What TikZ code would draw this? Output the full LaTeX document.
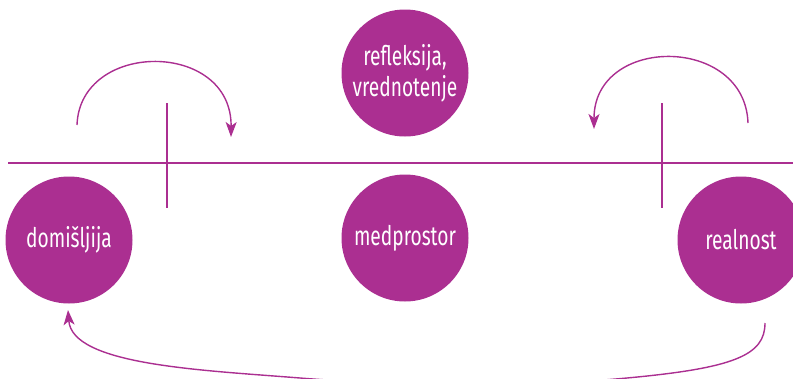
\documentclass[tikz,border=0pt]{standalone}
\usepackage{fontspec}
\setmainfont[FakeStretch=0.71]{Fira Sans}
\usetikzlibrary{arrows.meta}
\definecolor{plum}{RGB}{171,47,145}
\tikzset{
  blob/.style={circle, fill=plum, minimum size=127pt, inner sep=0pt,
    text=white, font=\fontsize{27}{31}\selectfont, align=center},
  rule/.style={draw=plum, line width=1.3pt},
  flow/.style={draw=plum, line width=1.4pt,
    -{Stealth[length=15pt, width=11pt, inset=4pt]}}
}
\begin{document}
\begin{tikzpicture}[x=1pt, y=-1pt]
  \useasboundingbox (0,0) rectangle (793,378);
  \clip (0,0) rectangle (793,378);

  % axis and the two dividers
  \coordinate (axL) at (8,163);
  \coordinate (axR) at (793,163);
  \coordinate (d1t) at (167,103);
  \coordinate (d1b) at (167,208);
  \coordinate (d2t) at (662,103);
  \coordinate (d2b) at (662,208);
  \draw[rule] (axL) -- (axR);
  \draw[rule] (d1t) -- (d1b);
  \draw[rule] (d2t) -- (d2b);

  % circles
  \node[blob] (dom) at (69,240) {domišljija};
  \node[blob] (med) at (405,238) {medprostor};
  \node[blob] (real) at (741,240) {realnost};
  \node[blob] (ref) at (405,73) {refleksija,\\vrednotenje};

  % curved arrows
  \coordinate (a1s) at (77,125);
  \coordinate (a1e) at (231,137);
  \coordinate (a2s) at (748,123);
  \coordinate (a2e) at (594,129);
  \coordinate (a3s) at (765,323);
  \coordinate (a3r) at (627,378);
  \coordinate (a3l) at (300,378);
  \coordinate (a3e) at (68,310);
  \draw[flow] (a1s) .. controls (80,40) and (232,40) .. (a1e);
  \draw[flow] (a2s) .. controls (745,35) and (594,35) .. (a2e);
  \draw[flow] (a3s) .. controls (765,355) and (735,368) .. (a3r)
    .. controls (520,388) and (400,386) .. (a3l)
    .. controls (200,370) and (72,365) .. (a3e);
\end{tikzpicture}
\end{document}
